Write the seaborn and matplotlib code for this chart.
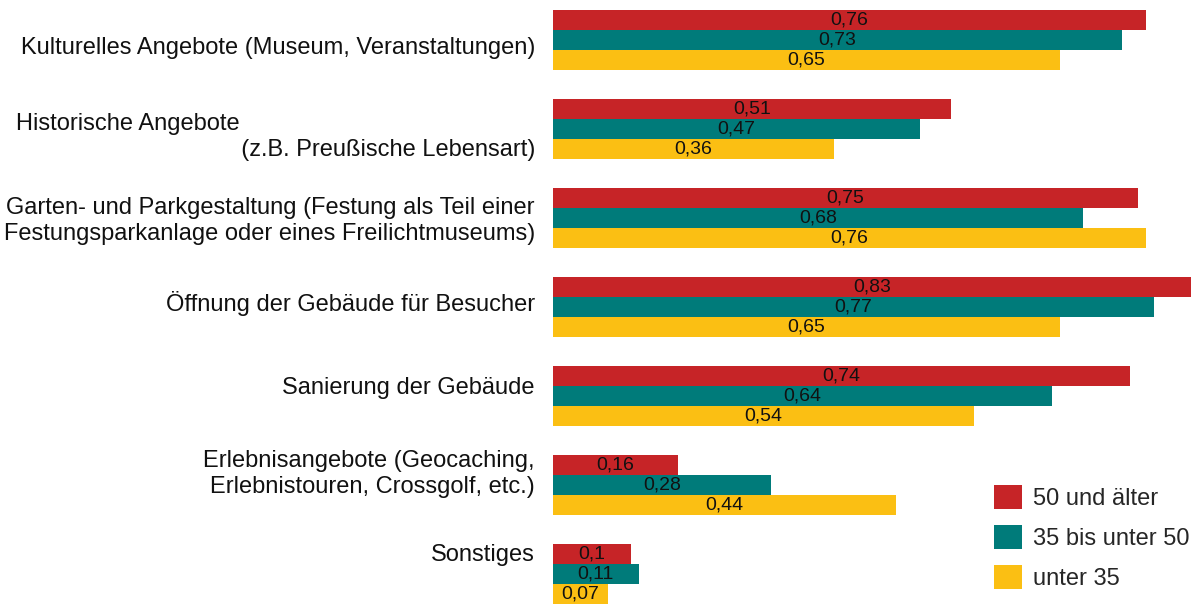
import matplotlib
matplotlib.use("Agg")
import matplotlib.pyplot as plt
import matplotlib.transforms as mtransforms
import seaborn as sns
import pandas as pd

# Data
kategorien = [
    "Kulturelles Angebote (Museum, Veranstaltungen)",
    "Historische Angebote\n" + "\u00a0" * 34 + "(z.B. Preußische Lebensart)",
    "Garten- und Parkgestaltung (Festung als Teil einer\nFestungsparkanlage oder eines Freilichtmuseums)",
    "Öffnung der Gebäude für Besucher",
    "Sanierung der Gebäude",
    "Erlebnisangebote (Geocaching,\nErlebnistouren, Crossgolf, etc.)",
    "Sonstiges",
]
gruppen = ["50 und älter", "35 bis unter 50", "unter 35"]
werte_50plus = [0.76, 0.51, 0.75, 0.83, 0.74, 0.16, 0.1]
werte_35_50 = [0.73, 0.47, 0.68, 0.77, 0.64, 0.28, 0.11]
werte_unter35 = [0.65, 0.36, 0.76, 0.65, 0.54, 0.44, 0.07]
farben = ["#C62427", "#007B7A", "#FBBF13"]

df = pd.DataFrame({
    "kategorie": kategorien * 3,
    "gruppe": [g for g in gruppen for _ in kategorien],
    "wert": werte_50plus + werte_35_50 + werte_unter35,
})

sns.set_theme(style="white")
plt.rcParams["font.family"] = ["Liberation Sans", "DejaVu Sans"]

fig = plt.figure(figsize=(11.91, 6.06), dpi=100)
ax = fig.add_axes([553 / 1191, 0, 1 - 553 / 1191, 1])

sns.barplot(data=df, x="wert", y="kategorie", hue="gruppe", palette=farben,
            orient="h", width=0.674, gap=0, saturation=1, linewidth=0, ax=ax)

# value labels with German decimal comma
for c in ax.containers:
    ax.bar_label(c, labels=[f"{v:g}".replace(".", ",") for v in c.datavalues],
                 label_type="center", fontsize=14, color="#111111")

ax.set_xlim(0, 0.818)
ax.set_ylim(6.36, -0.449)
ax.set(xlabel="", ylabel="")
ax.set_xticks([])
sns.despine(ax=ax, left=True, bottom=True)
ax.tick_params(axis="y", length=0, pad=13, labelsize=17, labelcolor="#111111")

# the category labels sit a bit off the bar centres in the original
versatz = [-6, -4, 1, 6, 10, 15, 21]
for lab, dy in zip(ax.get_yticklabels(), versatz):
    lab.set_multialignment("left" if lab.get_text().startswith("Historische") else "right")
    lab.set_transform(lab.get_transform() +
                      mtransforms.ScaledTranslation(0, dy / 100, fig.dpi_scale_trans))

sns.move_legend(ax, "upper left", bbox_to_anchor=(994 / 1191, 1 - 485 / 606),
                bbox_transform=fig.transFigure, frameon=False, title=None,
                fontsize=17, handlelength=1.19, handleheight=1.19,
                handletextpad=0.47, labelspacing=0.63, borderpad=0, borderaxespad=0)

plt.savefig("out.png", dpi=100)
